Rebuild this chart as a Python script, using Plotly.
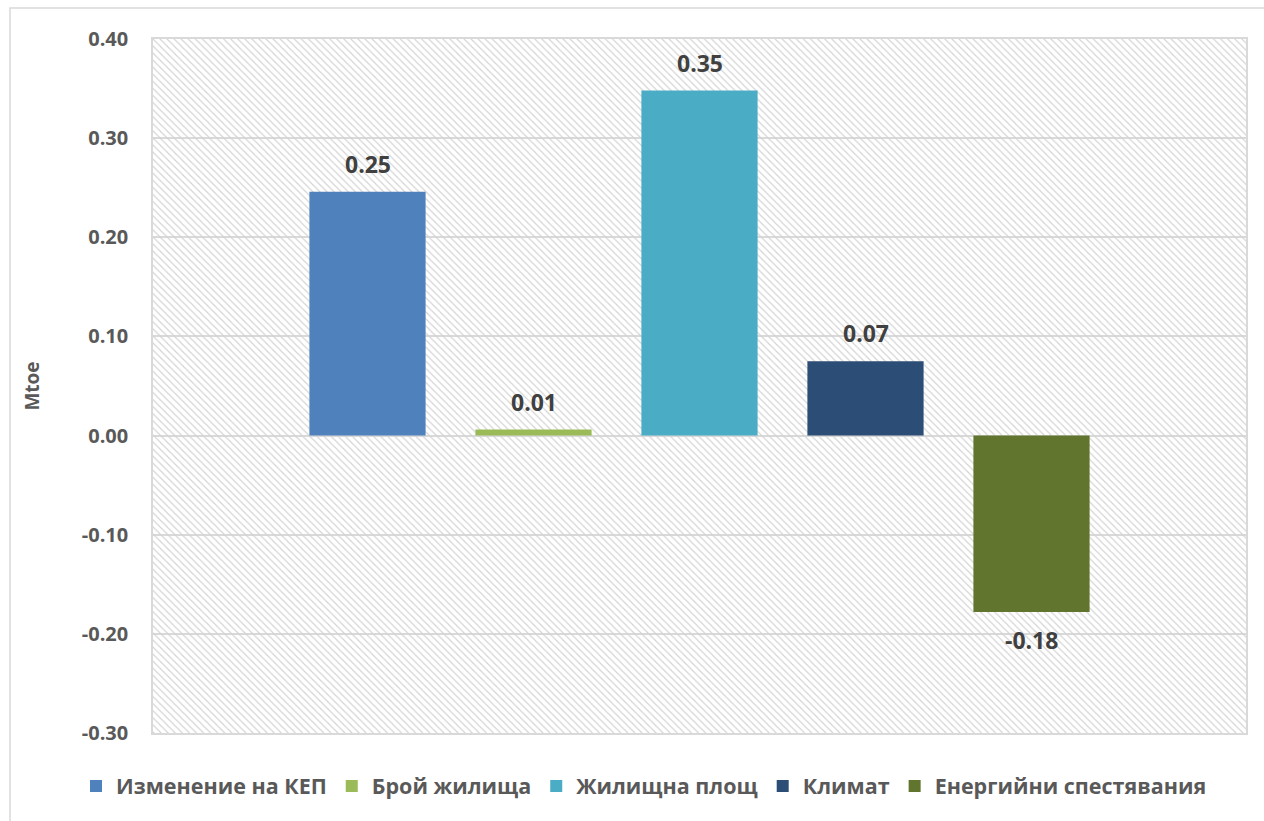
import plotly.graph_objects as go

# Decomposition of the change in household final energy consumption (Mtoe)
series_names = [
    "Изменение на КЕП",
    "Брой жилища",
    "Жилищна площ",
    "Климат",
    "Енергийни спестявания",
]
series_values = [0.246, 0.006, 0.348, 0.075, -0.178]
series_colors = ["#4F81BD", "#9BBB59", "#4BACC6", "#2C4D75", "#62752F"]

y_axis_title = "Mtoe"
tick_values = [-0.30, -0.20, -0.10, 0.00, 0.10, 0.20, 0.30, 0.40]
tick_labels = ["-0.30", "-0.20", "-0.10", "0.00", "0.10", "0.20", "0.30", "0.40"]
Y_MIN, Y_MAX = tick_values[0], tick_values[-1]

FONT = "Open Sans, Noto Sans, sans-serif"
AXIS_GRAY = "#595959"
LABEL_GRAY = "#404040"
GRID = "#D9D9D9"

fig = go.Figure()

# Hatched plot-area fill (light downward diagonal), drawn on the base subplot
fig.add_trace(go.Bar(
    x=[0.5], y=[Y_MAX - Y_MIN], base=[Y_MIN], width=[1.0],
    xaxis="x", yaxis="y",
    marker=dict(
        color="rgba(0,0,0,0)",
        line=dict(width=0),
        pattern=dict(shape="\\", fgcolor="#D2D2D2", bgcolor="rgba(0,0,0,0)",
                     size=5, solidity=0.22, fillmode="overlay", fgopacity=1),
    ),
    showlegend=False, hoverinfo="skip",
))

# One bar per component
for name, val, col in zip(series_names, series_values, series_colors):
    fig.add_trace(go.Bar(
        x=[name], y=[val], name=name,
        xaxis="x2", yaxis="y",
        marker=dict(color=col, line=dict(width=0)),
        hovertemplate="%{x}: %{y:.2f}<extra></extra>",
    ))

# Value labels above / below the bars
annotations = []
for name, val in zip(series_names, series_values):
    up = val >= 0
    annotations.append(dict(
        x=name, y=val, xref="x2", yref="y",
        text=f"{val:.2f}", showarrow=False,
        yanchor="bottom" if up else "top",
        yshift=10 if up else -10,
        font=dict(family=FONT, size=23, color=LABEL_GRAY, weight="bold"),
    ))

# Plot area geometry in pixels
W, H = 1264, 821
ML, MR, MT, MB = 153, 18, 39, 88
pw, ph = W - ML - MR, H - MT - MB

def px_x(x):
    return (x - ML) / pw

def px_y(y):
    return (H - MB - y) / ph

n = len(series_names)
slot_pad = (pw / 166.0 - n) / 2.0

fig.update_layout(
    width=W, height=H,
    margin=dict(l=ML, r=MR, t=MT, b=MB, autoexpand=False),
    paper_bgcolor="white", plot_bgcolor="white",
    barmode="overlay", bargap=0.3,
    font=dict(family=FONT, color=AXIS_GRAY),
    xaxis=dict(
        range=[0, 1], showticklabels=False, showgrid=False, zeroline=False,
        showline=True, mirror=True, linecolor=GRID, linewidth=1.5,
        ticks="", fixedrange=True,
    ),
    xaxis2=dict(
        overlaying="x", type="category", categoryorder="array",
        categoryarray=series_names,
        range=[-0.5 - slot_pad, n - 0.5 + slot_pad],
        showticklabels=False, showgrid=False, zeroline=False, showline=False,
        ticks="",
    ),
    yaxis=dict(
        range=[Y_MIN, Y_MAX], tickmode="array",
        tickvals=tick_values, ticktext=tick_labels,
        showgrid=True, gridcolor=GRID, gridwidth=1.5,
        zeroline=True, zerolinecolor=GRID, zerolinewidth=1.5,
        showline=True, mirror=True, linecolor=GRID, linewidth=1.5,
        ticks="", ticklabelstandoff=19,
        tickfont=dict(family=FONT, size=20, color=AXIS_GRAY, weight="bold"),
        title=dict(text=y_axis_title, standoff=37,
                   font=dict(family=FONT, size=19, color=AXIS_GRAY, weight="bold")),
    ),
    legend=dict(
        orientation="h", xref="paper", yref="paper",
        x=px_x(76), xanchor="left", y=px_y(786), yanchor="middle",
        font=dict(family=FONT, size=21.5, color=AXIS_GRAY, weight="bold"),
        itemclick=False, itemdoubleclick=False,
        traceorder="normal",
    ),
    annotations=annotations,
    shapes=[dict(
        type="rect", xref="paper", yref="paper",
        x0=px_x(10), x1=px_x(W + 10), y0=px_y(H + 10), y1=px_y(8),
        line=dict(color=GRID, width=1.5), fillcolor="rgba(0,0,0,0)",
        layer="below",
    )],
)

fig.write_html("out.html")
